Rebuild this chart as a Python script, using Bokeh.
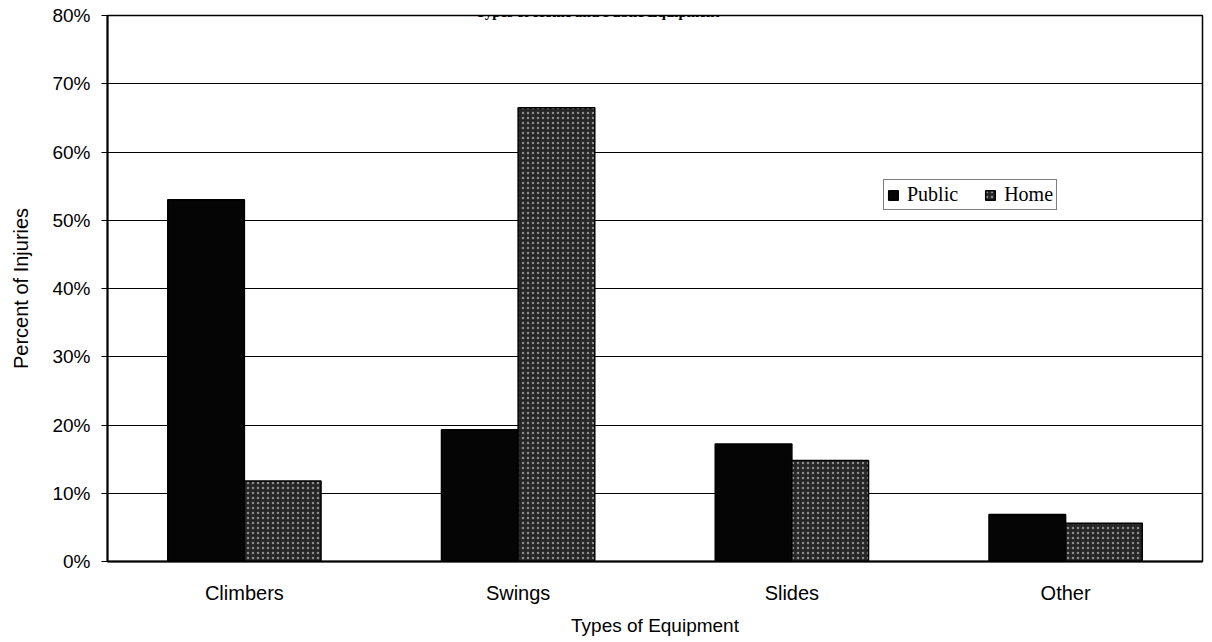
from bokeh.plotting import figure
from bokeh.models import FactorRange, Range1d, FixedTicker, PrintfTickFormatter, Label, ColumnDataSource
from bokeh.transform import dodge
from bokeh.embed import file_html
from bokeh.resources import INLINE

categories = ["Climbers", "Swings", "Slides", "Other"]
public = [53.0, 19.3, 17.2, 6.9]
home = [11.8, 66.5, 14.8, 5.6]
y_ticks = [0, 10, 20, 30, 40, 50, 60, 70, 80]
title_text = "Types of Home and Public Equipment"
x_label = "Types of Equipment"
y_label = "Percent of Injuries"

source = ColumnDataSource(data=dict(cat=categories, public=public, home=home))

p = figure(x_range=FactorRange(factors=categories), y_range=Range1d(0, 80),
           frame_width=1095, frame_height=546, output_backend="svg", toolbar_location=None,
           min_border_left=107, min_border_right=2, min_border_top=15, min_border_bottom=60)

p.background_fill_color = "white"
p.border_fill_color = "white"
p.outline_line_color = "black"
p.outline_line_width = 1.5

p.vbar(x=dodge("cat", -0.14, range=p.x_range), top="public", width=0.28, source=source,
       fill_color="#050505", line_color="black", line_width=1.5, legend_label="Public")
p.vbar(x=dodge("cat", 0.14, range=p.x_range), top="home", width=0.28, source=source,
       fill_color="#262626", line_color="black", line_width=1.5,
       hatch_pattern=".", hatch_color="#8c8c8c", hatch_scale=5, hatch_weight=1,
       legend_label="Home")

sans = "Liberation Sans"
serif = "Liberation Serif"

p.yaxis.ticker = FixedTicker(ticks=y_ticks)
p.yaxis.formatter = PrintfTickFormatter(format="%d%%")
p.yaxis.minor_tick_line_color = None
p.yaxis.major_tick_in = 0
p.yaxis.major_tick_out = 6
p.yaxis.major_tick_line_color = "black"
p.yaxis.major_label_standoff = 11
p.yaxis.axis_label = y_label
p.yaxis.axis_label_standoff = 17

p.xaxis.major_tick_line_color = None
p.xaxis.minor_tick_line_color = None
p.xaxis.major_tick_in = 0
p.xaxis.major_tick_out = 0
p.xaxis.major_label_standoff = 20
p.xaxis.axis_label = x_label
p.xaxis.axis_label_standoff = 8

for ax in (p.xaxis, p.yaxis):
    ax.axis_line_color = "black"
    ax.axis_line_width = 2
    ax.major_label_text_font = sans
    ax.major_label_text_color = "black"
    ax.axis_label_text_font = sans
    ax.axis_label_text_font_style = "normal"
    ax.axis_label_text_color = "black"
p.xaxis.major_label_text_font_size = "20px"
p.yaxis.major_label_text_font_size = "19px"
p.xaxis.axis_label_text_font_size = "19px"
p.yaxis.axis_label_text_font_size = "20px"

p.ygrid.grid_line_color = "black"
p.ygrid.grid_line_width = 1
p.xgrid.grid_line_color = None

lg = p.legend[0]
lg.location = (776, 351)
lg.orientation = "horizontal"
lg.label_text_font = serif
lg.label_text_font_size = "20px"
lg.label_text_color = "black"
lg.glyph_width = 12
lg.glyph_height = 12
lg.label_standoff = 8
lg.spacing = 26
lg.padding = 3
lg.margin = 0
lg.border_line_color = "black"
lg.border_line_width = 1.5
lg.background_fill_color = "white"
lg.background_fill_alpha = 1

title = Label(x=1.79, y=80, y_offset=4, text=title_text, text_align="center",
              text_baseline="alphabetic", text_font=serif, text_font_style="bold",
              text_font_size="15px", text_color="black")
p.add_layout(title)

open("out.html", "w").write(file_html(p, INLINE))
